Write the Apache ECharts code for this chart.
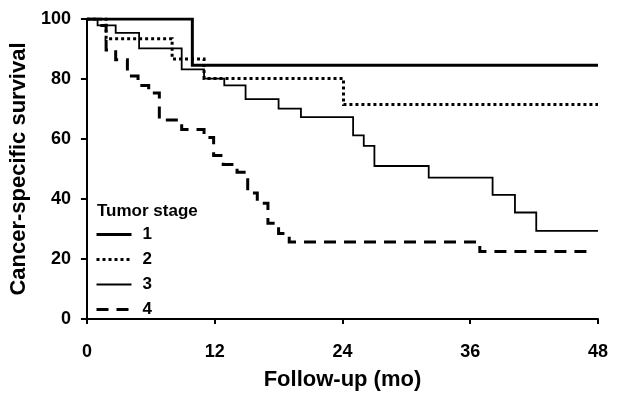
<!DOCTYPE html>
<html>
<head>
<meta charset="utf-8">
<script src="https://cdn.jsdelivr.net/npm/echarts@6/dist/echarts.min.js"></script>
<style>
  html, body { margin: 0; padding: 0; background: #fff; }
  #chart { width: 629px; height: 396px; }
</style>
</head>
<body>
<div id="chart"></div>
<script>
// Kaplan-Meier steps: [month, survival] - value holds until the next point
const stage1 = [[0, 100], [9.9, 84.6], [48, 84.6]]
const stage2 = [[0, 100], [1.8, 93.4], [8.0, 86.7], [11.0, 80.2], [24.1, 71.5], [48, 71.5]]
const stage3 = [
  [0, 100], [1.0, 97.9], [2.7, 95.4], [4.9, 90.2], [8.9, 83.2], [11.0, 80.1],
  [12.9, 77.9], [14.9, 73.3], [18.0, 70.1], [20.1, 67.3], [25.0, 61.2],
  [26.0, 57.7], [27.0, 51.0], [32.1, 47.1], [38.1, 41.4], [40.2, 35.5],
  [42.2, 29.4], [48, 29.4]
]
const stage4 = [
  [0, 100], [1.0, 97.8], [1.8, 89.7], [2.7, 86.4], [3.8, 81.0], [4.8, 77.8],
  [5.8, 75.3], [6.8, 66.3], [8.9, 63.2], [11.0, 60.5], [11.9, 54.5],
  [12.8, 51.5], [14.1, 48.9], [15.1, 42.0], [16.0, 38.6], [17.0, 31.9],
  [18.0, 28.5], [19.0, 25.7], [36.9, 22.5], [47.6, 22.5]
]
const stageNames = ['1', '2', '3', '4']
const xTicks = [0, 12, 24, 36, 48]
const yTicks = [0, 20, 40, 60, 80, 100]

const font = '"Liberation Sans", Arial, sans-serif'
const styles = [
  { width: 3 },
  { width: 3, type: [3, 3] },
  { width: 1.8 },
  { width: 3, type: [12, 8] }
]

const chart = echarts.init(document.getElementById('chart'), null, { renderer: 'canvas' })

function km(name, data, lineStyle) {
  return {
    name: name,
    type: 'line',
    step: 'end',
    data: data,
    symbol: 'none',
    silent: true,
    lineStyle: Object.assign({ color: '#000', cap: 'butt', join: 'miter' }, lineStyle),
    itemStyle: { color: '#000' }
  }
}

const option = {
  animation: false,
  backgroundColor: '#fff',
  title: {
    text: 'Tumor stage',
    left: 97,
    top: 203,
    textStyle: { fontFamily: font, fontSize: 17, fontWeight: 'bold', color: '#000' },
    padding: 0
  },
  legend: {
    orient: 'vertical',
    left: 95,
    top: 226,
    itemWidth: 35,
    itemHeight: 14,
    itemGap: 8,
    padding: 0,
    data: stageNames.map((n, i) => ({
      name: n,
      lineStyle: Object.assign({ color: '#000', cap: 'butt' }, styles[i])
    })),
    itemStyle: { color: 'rgba(0,0,0,0)', borderWidth: 0 },
    textStyle: { fontFamily: font, fontSize: 17, fontWeight: 'bold', color: '#000', padding: [0, 0, 0, 6] }
  },
  grid: { left: 86, right: 31, top: 19, bottom: 76 },
  xAxis: {
    type: 'value',
    min: xTicks[0],
    max: xTicks[xTicks.length - 1],
    interval: 12,
    name: 'Follow-up (mo)',
    nameLocation: 'middle',
    nameGap: 50,
    nameTextStyle: { fontFamily: font, fontSize: 22, fontWeight: 'bold', color: '#000' },
    axisLine: { lineStyle: { color: '#000', width: 2 } },
    axisTick: { show: true, length: 5, lineStyle: { color: '#000', width: 2 } },
    axisLabel: { margin: 24, fontFamily: font, fontSize: 18, fontWeight: 'bold', color: '#000' },
    splitLine: { show: false }
  },
  yAxis: {
    type: 'value',
    min: yTicks[0],
    max: yTicks[yTicks.length - 1],
    interval: 20,
    name: 'Cancer-specific survival',
    nameLocation: 'middle',
    nameRotate: 90,
    nameGap: 53,
    nameTextStyle: { fontFamily: font, fontSize: 22, fontWeight: 'bold', color: '#000' },
    axisLine: { show: true, lineStyle: { color: '#000', width: 2 } },
    axisTick: { show: true, length: 6, lineStyle: { color: '#000', width: 2 } },
    axisLabel: { margin: 16, fontFamily: font, fontSize: 18, fontWeight: 'bold', color: '#000' },
    splitLine: { show: false }
  },
  series: stageNames.map((n, i) => km(n, [stage1, stage2, stage3, stage4][i], styles[i]))
}

chart.setOption(option)
</script>
</body>
</html>
